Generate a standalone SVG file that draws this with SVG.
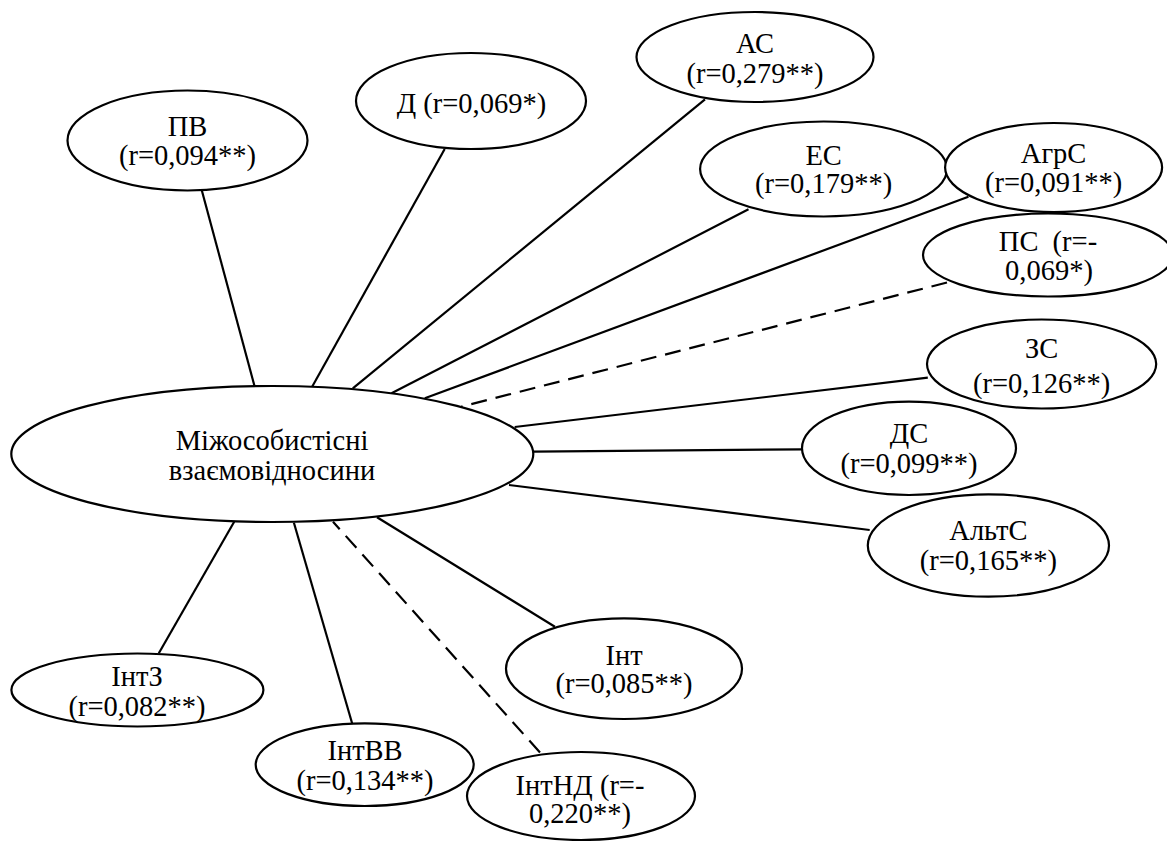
<svg xmlns="http://www.w3.org/2000/svg" width="1167" height="841" viewBox="0 0 1167 841">
<style>
.n{fill:#fff;stroke:#000;stroke-width:2.2}
.c{stroke:#000;stroke-width:2.2;fill:none}
.d{stroke-dasharray:16 9}
text{font-size:28.5px;fill:#000;text-anchor:middle}
</style>
<rect width="1167" height="841" fill="#fff"/>
<g id="connectors">
<line class="c" x1="201.7" y1="190" x2="254.5" y2="386"/>
<line class="c" x1="444.7" y1="149" x2="312" y2="387"/>
<line class="c" x1="705" y1="99.3" x2="352.8" y2="388.3"/>
<line class="c" x1="748.5" y1="209.3" x2="391.5" y2="393.3"/>
<line class="c" x1="968.4" y1="196.7" x2="424.8" y2="398.3"/>
<line class="c d" x1="947" y1="282.5" x2="461.2" y2="406.7"/>
<line class="c" x1="927.8" y1="377.7" x2="514.7" y2="427"/>
<line class="c" x1="802" y1="449.3" x2="533.5" y2="451.7"/>
<line class="c" x1="869.7" y1="530" x2="509" y2="485"/>
<line class="c" x1="554.9" y1="626.7" x2="377" y2="517.3"/>
<line class="c d" x1="540" y1="752.5" x2="333" y2="521.7"/>
<line class="c" x1="352.1" y1="723.3" x2="293.9" y2="522.7"/>
<line class="c" x1="158.8" y1="653.3" x2="234.2" y2="521.7"/>
</g>
<g font-family="Liberation Serif, DejaVu Serif, serif">
<g id="center">
<ellipse class="n" cx="272.3" cy="454" rx="261" ry="68"/>
<text x="272" y="449.5">Міжособистісні</text>
<text x="272" y="479.5">взаємовідносини</text>
</g>
<g id="PV">
<ellipse class="n" cx="187.5" cy="140.5" rx="120" ry="50"/>
<text x="187.5" y="135.5">ПВ</text>
<text x="187.5" y="164.5">(r=0,094**)</text>
</g>
<g id="D">
<ellipse class="n" cx="471" cy="101" rx="115" ry="48"/>
<text x="471.5" y="112.5">Д (r=0,069*)</text>
</g>
<g id="AS">
<ellipse class="n" cx="755" cy="57" rx="118.5" ry="45"/>
<text x="755" y="52.8">АС</text>
<text x="755" y="82.8">(r=0,279**)</text>
</g>
<g id="ES">
<ellipse class="n" cx="823.6" cy="169" rx="123.5" ry="47.5"/>
<text x="823.6" y="164.5">ЕС</text>
<text x="823.6" y="193">(r=0,179**)</text>
</g>
<g id="AgrS">
<ellipse class="n" cx="1053.6" cy="167.5" rx="108.5" ry="44.5"/>
<text x="1053.6" y="163">АгрС</text>
<text x="1053.6" y="192">(r=0,091**)</text>
</g>
<g id="PS">
<ellipse class="n" cx="1048" cy="255" rx="125" ry="41.5"/>
<text x="1048" y="251" word-spacing="7">ПС (r=-</text>
<text x="1049" y="279.5">0,069*)</text>
</g>
<g id="ZS">
<ellipse class="n" cx="1041.6" cy="364" rx="114.6" ry="44.5"/>
<text x="1041.6" y="357.8">ЗС</text>
<text x="1041.6" y="392.8">(r=0,126**)</text>
</g>
<g id="DS">
<ellipse class="n" cx="909" cy="448.3" rx="107" ry="46.7"/>
<text x="909" y="442.8">ДС</text>
<text x="909" y="472.8">(r=0,099**)</text>
</g>
<g id="AltS">
<ellipse class="n" cx="988.4" cy="545.5" rx="120.6" ry="51.2"/>
<text x="988.4" y="539.5">АльтС</text>
<text x="988.4" y="569.5">(r=0,165**)</text>
</g>
<g id="Int">
<ellipse class="n" cx="624" cy="668.7" rx="118" ry="50.3"/>
<text x="624" y="664.5">Інт</text>
<text x="624" y="692.8">(r=0,085**)</text>
</g>
<g id="IntZ">
<ellipse class="n" cx="137.4" cy="690" rx="126" ry="36.5"/>
<text x="137" y="686.2">ІнтЗ</text>
<text x="137" y="716.2">(r=0,082**)</text>
</g>
<g id="IntVV">
<ellipse class="n" cx="364.7" cy="764.7" rx="109" ry="41.3"/>
<text x="365" y="759.5">ІнтВВ</text>
<text x="365" y="789.5">(r=0,134**)</text>
</g>
<g id="IntND">
<ellipse class="n" cx="581" cy="796" rx="114" ry="44"/>
<text x="580" y="795">ІнтНД (r=-</text>
<text x="580" y="823">0,220**)</text>
</g>
</g>
</svg>
